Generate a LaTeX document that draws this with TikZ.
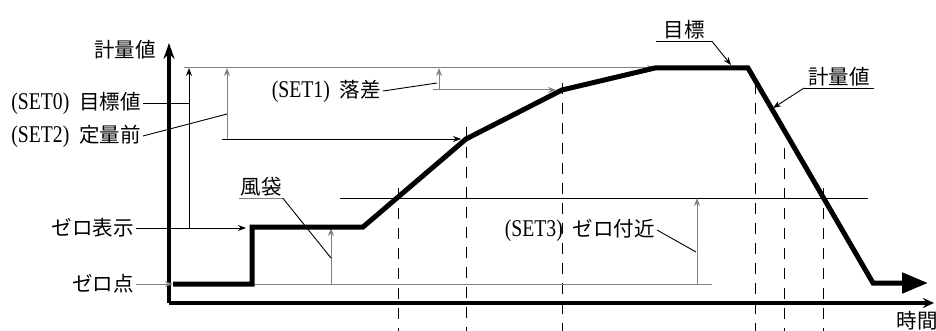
\documentclass[tikz,border=0pt]{standalone}
\usepackage{fontspec}
\setmainfont{Liberation Serif}[FakeStretch=0.82]
\newfontfamily\cjk{Noto Sans CJK JP}
\usetikzlibrary{arrows.meta,calc}
\definecolor{linegray}{gray}{0.5}
\newcommand\jp[1]{{\cjk\fontsize{20.5}{24}\selectfont #1}}
\newcommand\gap{\hspace{10pt}}
\tikzset{
  lbl/.style={font=\fontsize{24}{28}\selectfont, inner sep=2pt},
  thinline/.style={line width=0.9pt},
  grayline/.style={line width=1pt, draw=linegray},
  tip/.style={-{Stealth[length=8pt,width=6pt]}},
  dashline/.style={line width=1pt, dash pattern=on 11pt off 9pt},
  axis/.style={line width=3.3pt},
  curve/.style={line width=5pt, line join=miter},
}

\begin{document}
\begin{tikzpicture}[x=1pt, y=-1pt]
  \useasboundingbox (0,0) rectangle (936,331);

  \coordinate (O) at (169,303);        % 原点
  \coordinate (Ytop) at (169,43);
  \coordinate (Xend) at (934,303);

  % 計量値の曲線
  \coordinate (c0) at (173,284);
  \coordinate (c1) at (252,284);
  \coordinate (c2) at (252,227);
  \coordinate (c3) at (363,227);
  \coordinate (c4) at (466,139);
  \coordinate (c5) at (562,90);
  \coordinate (c6) at (655,68);
  \coordinate (c7) at (748,68);
  \coordinate (c8) at (873,283);
  \coordinate (c9) at (928,283);

  % 破線
  \foreach \x/\y in {398/188, 466/127, 562/83, 755/83, 784/148, 823/188}
    \draw[dashline] (\x,\y) -- (\x,331);

  % 補助線
  \draw[grayline] (c1) -- (712,284);
  \draw[thinline] (340,198) -- (868,198);
  \draw[grayline, tip] (184,68) -- (c6);

  % 軸
  \draw[axis, -{Stealth[length=16pt,width=11pt]}] (O) -- (Ytop);
  \draw[axis, -{Stealth[length=11pt,width=10pt]}] (O) -- (Xend);

  % SET0, SET2
  \draw[thinline, tip] (189,228) -- (189,68);
  \draw[grayline, tip] (227,139) -- (227,68);
  \draw[thinline, tip] (222,139) -- (461,139);

  % SET1
  \draw[grayline, tip] (439,90) -- (439,68);
  \draw[grayline, tip] (433,90) -- (556,90);

  % 風袋, SET3
  \draw[grayline, tip] (331,284) -- (331,228);
  \draw[grayline, tip] (697,284) -- (697,198);

  \draw[curve] (c0) -- (c1) -- (c2) -- (c3) -- (c4) -- (c5) -- (c6) -- (c7) -- (c8) -- ($(c9)+(-20,0)$);
  \draw[curve, -{Triangle[length=26pt,width=20pt]}] ($(c9)+(-24,0)$) -- (c9);

  % ラベル
  \node[lbl, anchor=east] (yl) at (158,50) {\jp{計量値}};
  \node[lbl, anchor=east] (set0) at (143,103) {(SET0)\gap\jp{目標値}};
  \node[lbl, anchor=east] (set2) at (143,136) {(SET2)\gap\jp{定量前}};
  \node[lbl, anchor=east] (zd) at (136,228) {\jp{ゼロ表示}};
  \node[lbl, anchor=east] (zp) at (136,284) {\jp{ゼロ点}};
  \node[lbl, anchor=east] (set1) at (383,91) {(SET1)\gap\jp{落差}};
  \node[lbl, anchor=east] (set3) at (657,230) {(SET3)\gap\jp{ゼロ付近}};
  \node[lbl, anchor=south, inner xsep=1pt] (fut) at (261,198) {\jp{風袋}};
  \node[lbl, anchor=south, inner xsep=7pt] (mk) at (684,41) {\jp{目標}};
  \node[lbl, anchor=south, inner xsep=4pt] (pv) at (839,88) {\jp{計量値}};
  \node[lbl] (tl) at (917,321) {\jp{時間}};

  % 引出線
  \draw[thinline] (set0.east) -- (189,103);
  \draw[thinline] (set2.east) -- (227,114);
  \draw[thinline, tip] (zd.east) -- (246,228);
  \draw[grayline, tip] (zp.east) -- (c0);
  \draw[thinline] (set1.east) -- (437,83);
  \draw[thinline] (set3.east) -- (696,252);
  \draw[grayline] (fut.south west) -- (fut.south east);
  \draw[thinline] (fut.south east) -- (331,258);
  \draw[thinline] (mk.south west) -- (mk.south east);
  \draw[thinline, tip] (mk.south east) -- (731,65);
  \draw[thinline] (pv.south west) -- (pv.south east);
  \draw[thinline, tip] (pv.south west) -- (773,108);
\end{tikzpicture}
\end{document}
